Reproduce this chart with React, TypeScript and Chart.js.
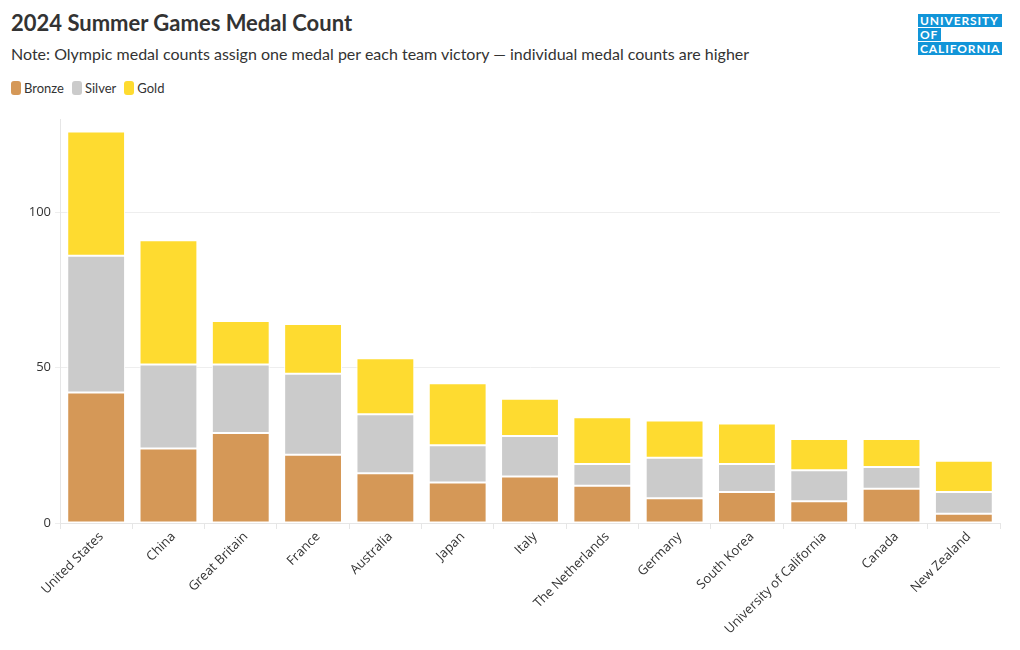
import React, { useEffect, useRef } from "react";
import { Chart, registerables } from "chart.js";

Chart.register(...registerables);

const categories = [
  "United States",
  "China",
  "Great Britain",
  "France",
  "Australia",
  "Japan",
  "Italy",
  "The Netherlands",
  "Germany",
  "South Korea",
  "University of California",
  "Canada",
  "New Zealand",
];
const bronze = [42, 24, 29, 22, 16, 13, 15, 12, 8, 10, 7, 11, 3];
const silver = [44, 27, 22, 26, 19, 12, 13, 7, 13, 9, 10, 7, 7];
const gold = [40, 40, 14, 16, 18, 20, 12, 15, 12, 13, 10, 9, 10];
const yTicks = [0, 50, 100];

const seriesNames = ["Bronze", "Silver", "Gold"];
const seriesColors = ["#D59857", "#CBCBCB", "#FEDB30"];

const FONT = "Lato, 'Source Sans Pro', sans-serif";
const TICK_FONT = "'Open Sans', sans-serif";

export default function App() {
  const ref = useRef<HTMLCanvasElement | null>(null);
  useEffect(() => {
    if (!ref.current) return;
    const chart = new Chart(ref.current, {
      type: "bar",
      data: {
        labels: categories,
        datasets: [bronze, silver, gold].map((d, i) => ({
          label: seriesNames[i],
          data: d,
          backgroundColor: seriesColors[i],
          borderColor: "#ffffff",
          borderWidth: 1,
          borderSkipped: false,
          categoryPercentage: 1,
          barPercentage: 0.8,
        })),
      },
      options: {
        animation: false,
        responsive: false,
        maintainAspectRatio: false,
        layout: { padding: { top: 9, right: 20, left: 0, bottom: 0 } },
        plugins: {
          legend: { display: false },
          tooltip: { enabled: false },
        },
        scales: {
          x: {
            stacked: true,
            grid: {
              drawOnChartArea: false,
              drawTicks: true,
              tickLength: 6,
              color: "#e6e6e6",
            },
            border: { color: "#e6e6e6" },
            ticks: {
              maxRotation: 45,
              minRotation: 45,
              autoSkip: false,
              color: "#333",
              font: { family: TICK_FONT, size: 13 },
              padding: 0,
              labelOffset: 5,
            },
            afterFit: (s: any) => {
              s.height = 127;
              s.paddingLeft = 0;
              s.paddingRight = 0;
            },
          },
          y: {
            stacked: true,
            min: 0,
            max: 130,
            afterBuildTicks: (s: any) => {
              s.ticks = yTicks.map((v) => ({ value: v }));
            },
            grid: {
              color: "#eeeeee",
              tickLength: 5,
            },
            border: { color: "#e6e6e6" },
            ticks: {
              color: "#333",
              font: { family: TICK_FONT, size: 13 },
              padding: 4,
            },
            afterFit: (s: any) => {
              s.width = 60;
              s.paddingTop = 0;
              s.paddingBottom = 0;
            },
          },
        },
      },
    });
    return () => chart.destroy();
  }, []);

  const logoBox: React.CSSProperties = {
    position: "absolute",
    left: 918,
    background: "#1295D8",
    color: "#fff",
    fontFamily: FONT,
    fontWeight: 700,
    fontSize: 12,
    letterSpacing: 0.9,
    lineHeight: "13px",
    height: 13,
    padding: "0 2px",
    boxSizing: "border-box",
    whiteSpace: "nowrap",
    overflow: "hidden",
  };

  return (
    <div
      style={{
        position: "absolute",
        left: 0,
        top: 0,
        width: 1020,
        height: 650,
        background: "#fff",
        fontFamily: FONT,
        overflow: "hidden",
      }}
    >
      <div
        style={{
          position: "absolute",
          left: 11,
          top: 9,
          fontSize: 22,
          fontWeight: 700,
          color: "#333",
          whiteSpace: "nowrap",
        }}
      >
        2024 Summer Games Medal Count
      </div>
      <div
        style={{
          position: "absolute",
          left: 11,
          top: 44,
          fontSize: 16,
          color: "#333",
          whiteSpace: "nowrap",
        }}
      >
        Note: Olympic medal counts assign one medal per each team victory — individual medal counts are higher
      </div>
      <div
        style={{
          position: "absolute",
          left: 11,
          top: 80,
          display: "flex",
          alignItems: "center",
          fontSize: 13,
          color: "#333",
        }}
      >
        {seriesNames.map((n, i) => (
          <div key={n} style={{ display: "flex", alignItems: "center", marginRight: 8 }}>
            <span
              style={{
                display: "inline-block",
                width: 10,
                height: 14,
                borderRadius: 3,
                background: seriesColors[i],
                marginRight: 3,
              }}
            />
            <span>{n}</span>
          </div>
        ))}
      </div>
      <div style={{ ...logoBox, top: 14, width: 84 }}>UNIVERSITY</div>
      <div style={{ ...logoBox, top: 28, width: 23 }}>OF</div>
      <div style={{ ...logoBox, top: 42, width: 84 }}>CALIFORNIA</div>
      <canvas
        ref={ref}
        width={1020}
        height={540}
        style={{ position: "absolute", left: 0, top: 110, width: 1020, height: 540 }}
      />
    </div>
  );
}
